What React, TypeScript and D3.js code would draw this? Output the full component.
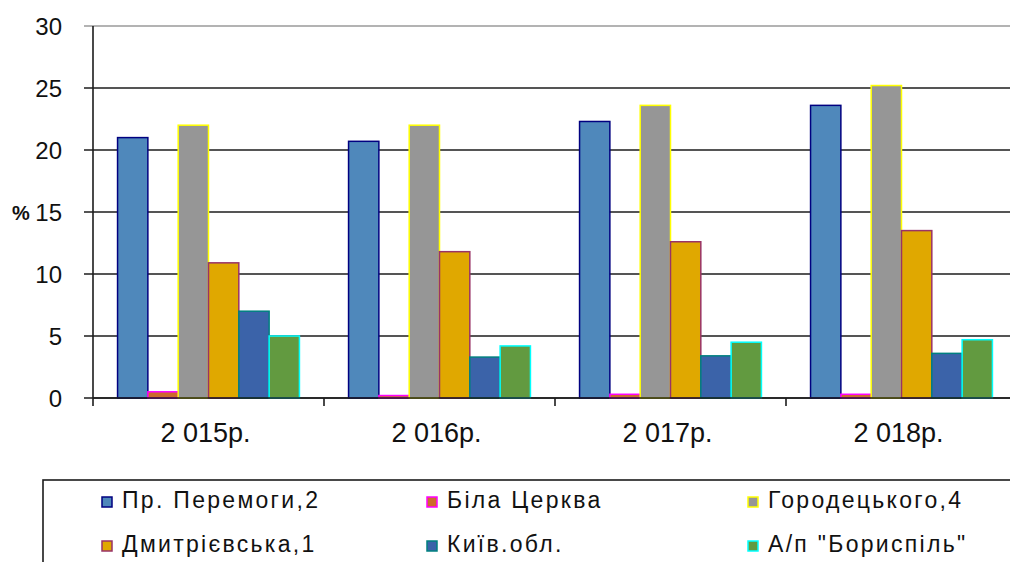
import React from 'react';
import * as d3 from 'd3';

// years on the x axis
const years = ['2 015р.', '2 016р.', '2 017р.', '2 018р.'];

// series names (legend order)
const seriesNames = [
  'Пр. Перемоги,2',
  'Біла Церква',
  'Городецького,4',
  'Дмитрієвська,1',
  'Київ.обл.',
  'А/п "Бориспіль"',
];

// values per series, one per year (%)
const peremogy = [21.0, 20.7, 22.3, 23.6];
const bilaTserkva = [0.5, 0.2, 0.3, 0.3];
const horodetskoho = [22.0, 22.0, 23.6, 25.2];
const dmytriievska = [10.9, 11.8, 12.6, 13.5];
const kyivObl = [7.0, 3.3, 3.4, 3.6];
const boryspil = [5.0, 4.2, 4.5, 4.7];

const yTicks = [0, 5, 10, 15, 20, 25, 30];

const fills = ['#4f88bb', '#cd6a2c', '#969696', '#e0a800', '#3b63a9', '#629a40'];
const strokes = ['#000080', '#ff00ff', '#ffff00', '#993366', '#008080', '#00ffff'];

const FONT = '"Liberation Sans", Arial, sans-serif';

const App = () => {
  const width = 1010;
  const height = 562;
  const left = 93;
  const right = 1017;
  const top = 26;
  const bottom = 398;

  const allSeries = [peremogy, bilaTserkva, horodetskoho, dmytriievska, kyivObl, boryspil];

  const x = d3.scaleBand().domain(years).range([left, right]).paddingInner(0).paddingOuter(0);
  const inner = d3.scaleBand<number>()
    .domain(d3.range(seriesNames.length))
    .range([0, x.bandwidth()])
    .paddingInner(0)
    .paddingOuter(0.81);
  const y = d3.scaleLinear().domain([0, 30]).range([bottom, top]);

  // legend layout
  const legendCols = [102, 427, 748];
  const legendRows = [508, 552];

  return (
    <svg
      width={width}
      height={height}
      style={{ position: 'absolute', left: 0, top: 0, background: '#fff' }}
    >
      {/* gridlines */}
      {yTicks.map(t => (
        <line
          key={'g' + t}
          x1={left - 9}
          x2={width}
          y1={y(t)}
          y2={y(t)}
          stroke={t === 30 ? '#9a9a9a' : '#1c1c1c'}
          strokeWidth={1.6}
        />
      ))}

      {/* bars */}
      {years.map((yr, i) => (
        <g key={yr} transform={`translate(${x(yr)},0)`}>
          {allSeries.map((s, j) => (
            <rect
              key={j}
              x={inner(j)}
              y={y(s[i])}
              width={inner.bandwidth()}
              height={y(0) - y(s[i])}
              fill={fills[j]}
              stroke={strokes[j]}
              strokeWidth={1.5}
            />
          ))}
        </g>
      ))}

      {/* axes */}
      <line x1={left} x2={left} y1={top} y2={bottom + 8} stroke="#1c1c1c" strokeWidth={1.6} />
      <line x1={left} x2={width} y1={bottom} y2={bottom} stroke="#1c1c1c" strokeWidth={1.6} />
      {years.map(yr => (
        <line
          key={'t' + yr}
          x1={x(yr)! + x.bandwidth()}
          x2={x(yr)! + x.bandwidth()}
          y1={bottom}
          y2={bottom + 8}
          stroke="#1c1c1c"
          strokeWidth={1.6}
        />
      ))}

      {/* y labels */}
      {yTicks.map(t => (
        <text
          key={'l' + t}
          x={62}
          y={y(t) + 8.5}
          textAnchor="end"
          fontFamily={FONT}
          fontSize={24}
          fill="#111"
        >
          {t}
        </text>
      ))}
      <text x={12} y={220} fontFamily={FONT} fontSize={20} fontWeight="bold" fill="#111">%</text>

      {/* x labels */}
      {years.map(yr => (
        <text
          key={'x' + yr}
          x={x(yr)! + x.bandwidth() / 2 - 3}
          y={442}
          textAnchor="middle"
          fontFamily={FONT}
          fontSize={27}
          fill="#111"
        >
          {yr}
        </text>
      ))}

      {/* legend */}
      <rect x={43} y={480} width={1000} height={120} fill="#fff" stroke="#1c1c1c" strokeWidth={1.6} />
      {seriesNames.map((name, j) => {
        const cx = legendCols[j % 3];
        const cy = legendRows[Math.floor(j / 3)];
        return (
          <g key={name}>
            <rect
              x={cx}
              y={cy - 11}
              width={10}
              height={10}
              fill={fills[j]}
              stroke={strokes[j]}
              strokeWidth={1.5}
            />
            <text
              x={cx + 20}
              y={cy}
              fontFamily={FONT}
              fontSize={23}
              letterSpacing={2.3}
              fill="#111"
            >
              {name}
            </text>
          </g>
        );
      })}
    </svg>
  );
};

export default App;
